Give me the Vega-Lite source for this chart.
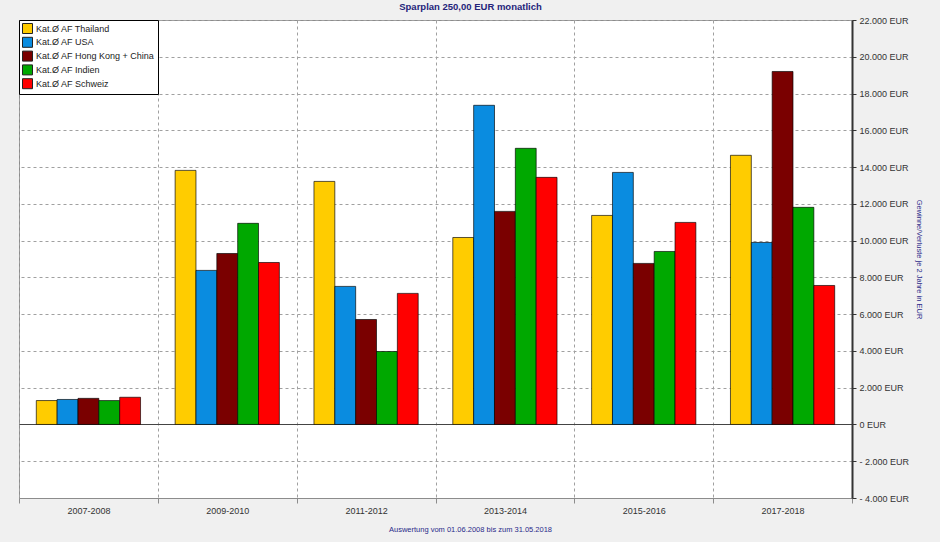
{
  "$schema": "https://vega.github.io/schema/vega-lite/v6.json",
  "width": 833,
  "height": 478,
  "autosize": {"type": "none"},
  "padding": {"left": 19, "top": 20, "right": 88, "bottom": 44},
  "background": "#f0f0f0",
  "title": {"text": "Sparplan 250,00 EUR monatlich", "fontSize": 9.5, "font": "Liberation Sans", "fontWeight": "bold", "color": "#24247a", "offset": 5, "dx": 35},
  "config": {"view": {"fill": "white", "stroke": "#8c8c8c"}, "font": "Liberation Sans"},
  "data": {"values": [
    {"period": "2007-2008", "fonds": "Kat.Ø AF Thailand", "value": 1300},
    {"period": "2007-2008", "fonds": "Kat.Ø AF USA", "value": 1360},
    {"period": "2007-2008", "fonds": "Kat.Ø AF Hong Kong + China", "value": 1420},
    {"period": "2007-2008", "fonds": "Kat.Ø AF Indien", "value": 1300},
    {"period": "2007-2008", "fonds": "Kat.Ø AF Schweiz", "value": 1480},
    {"period": "2009-2010", "fonds": "Kat.Ø AF Thailand", "value": 13820},
    {"period": "2009-2010", "fonds": "Kat.Ø AF USA", "value": 8380},
    {"period": "2009-2010", "fonds": "Kat.Ø AF Hong Kong + China", "value": 9300},
    {"period": "2009-2010", "fonds": "Kat.Ø AF Indien", "value": 10940},
    {"period": "2009-2010", "fonds": "Kat.Ø AF Schweiz", "value": 8810},
    {"period": "2011-2012", "fonds": "Kat.Ø AF Thailand", "value": 13220},
    {"period": "2011-2012", "fonds": "Kat.Ø AF USA", "value": 7510},
    {"period": "2011-2012", "fonds": "Kat.Ø AF Hong Kong + China", "value": 5710},
    {"period": "2011-2012", "fonds": "Kat.Ø AF Indien", "value": 3970},
    {"period": "2011-2012", "fonds": "Kat.Ø AF Schweiz", "value": 7130},
    {"period": "2013-2014", "fonds": "Kat.Ø AF Thailand", "value": 10170},
    {"period": "2013-2014", "fonds": "Kat.Ø AF USA", "value": 17360},
    {"period": "2013-2014", "fonds": "Kat.Ø AF Hong Kong + China", "value": 11590},
    {"period": "2013-2014", "fonds": "Kat.Ø AF Indien", "value": 15020},
    {"period": "2013-2014", "fonds": "Kat.Ø AF Schweiz", "value": 13440},
    {"period": "2015-2016", "fonds": "Kat.Ø AF Thailand", "value": 11370},
    {"period": "2015-2016", "fonds": "Kat.Ø AF USA", "value": 13710},
    {"period": "2015-2016", "fonds": "Kat.Ø AF Hong Kong + China", "value": 8760},
    {"period": "2015-2016", "fonds": "Kat.Ø AF Indien", "value": 9410},
    {"period": "2015-2016", "fonds": "Kat.Ø AF Schweiz", "value": 10990},
    {"period": "2017-2018", "fonds": "Kat.Ø AF Thailand", "value": 14640},
    {"period": "2017-2018", "fonds": "Kat.Ø AF USA", "value": 9900},
    {"period": "2017-2018", "fonds": "Kat.Ø AF Hong Kong + China", "value": 19200},
    {"period": "2017-2018", "fonds": "Kat.Ø AF Indien", "value": 11810},
    {"period": "2017-2018", "fonds": "Kat.Ø AF Schweiz", "value": 7560}
  ]},
  "mark": {"type": "bar", "stroke": "#000", "strokeOpacity": 0.65, "strokeWidth": 1},
  "encoding": {
    "x": {
      "field": "period", "type": "nominal",
      "scale": {"paddingInner": 0, "paddingOuter": 0},
      "axis": {
        "title": "Auswertung vom 01.06.2008 bis zum 31.05.2018",
        "titleFontSize": 7.5, "titleColor": "#2a2a8a", "titleFontWeight": "normal", "titlePadding": 10, "titleX": 451,
        "labelAngle": 0, "labelFontSize": 9, "labelColor": "#333", "labelPadding": 3,
        "tickBand": "extent", "grid": true, "gridDash": [3, 3], "gridColor": "#a0a0a0",
        "domainColor": "#8c8c8c", "tickColor": "#8c8c8c", "tickSize": 5
      }
    },
    "xOffset": {
      "field": "fonds", "type": "nominal",
      "scale": {"domain": ["Kat.Ø AF Thailand", "Kat.Ø AF USA", "Kat.Ø AF Hong Kong + China", "Kat.Ø AF Indien", "Kat.Ø AF Schweiz"], "paddingInner": 0, "paddingOuter": 0.83}
    },
    "y": {
      "field": "value", "type": "quantitative",
      "scale": {"domain": [-4000, 22000], "nice": false},
      "axis": {
        "orient": "right",
        "values": [-4000, -2000, 0, 2000, 4000, 6000, 8000, 10000, 12000, 14000, 16000, 18000, 20000, 22000],
        "labelExpr": "datum.value < 0 ? '- ' + replace(format(-datum.value, ','), ',', '.') + ' EUR' : replace(format(datum.value, ','), ',', '.') + ' EUR'",
        "labelOverlap": false, "labelFlush": false,
        "grid": true,
        "gridDash": {"condition": {"test": "datum.value === 0", "value": []}, "value": [3, 3]},
        "gridColor": {"condition": {"test": "datum.value === 0", "value": "#444"}, "value": "#a0a0a0"},
        "domainColor": "#333", "domainWidth": 2, "tickColor": "#333", "tickSize": 4,
        "labelFontSize": 9, "labelColor": "#333", "labelPadding": 3,
        "title": "Gewinne/Verluste je 2 Jahre in EUR", "titleFontSize": 7.5, "titleColor": "#2a2a8a", "titleFontWeight": "normal", "titlePadding": 6
      }
    },
    "color": {
      "field": "fonds", "type": "nominal",
      "scale": {
        "domain": ["Kat.Ø AF Thailand", "Kat.Ø AF USA", "Kat.Ø AF Hong Kong + China", "Kat.Ø AF Indien", "Kat.Ø AF Schweiz"],
        "range": ["#ffcc00", "#0a8ce0", "#7a0000", "#00a800", "#ff0000"]
      },
      "legend": {
        "orient": "top-left", "offset": 0, "padding": 3, "title": null,
        "fillColor": "white", "strokeColor": "#000",
        "symbolType": "square", "symbolSize": 100, "symbolStrokeColor": "#222", "symbolStrokeWidth": 1,
        "labelFontSize": 9, "labelColor": "#222", "rowPadding": -1.2, "labelOffset": 3
      }
    }
  }
}
